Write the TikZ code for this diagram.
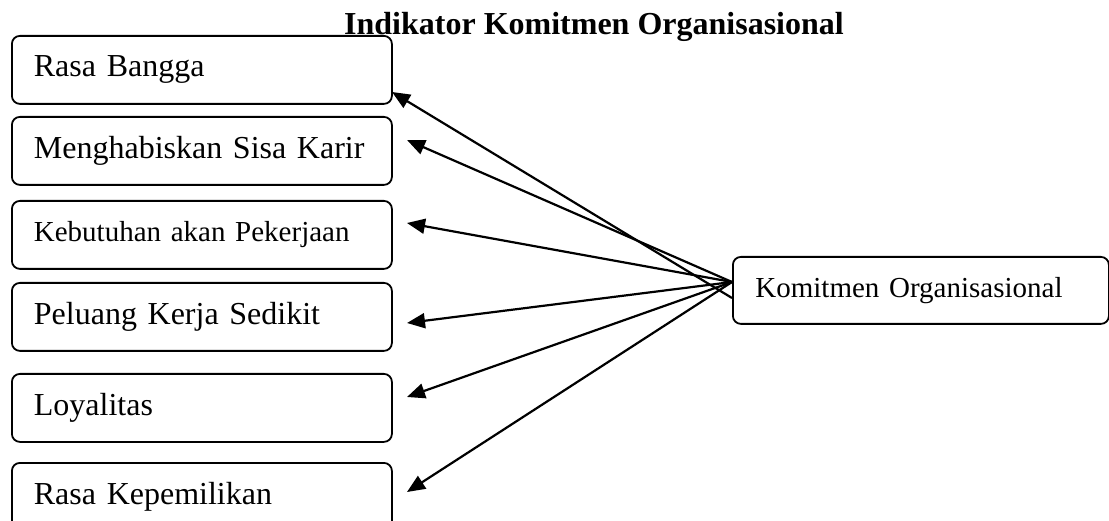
\documentclass[tikz,border=0pt]{standalone}
\usepackage{fontspec}
\setmainfont{Liberation Serif}
\usetikzlibrary{arrows.meta}
\begin{document}
\begin{tikzpicture}[x=1pt,y=-1pt,
  item/.style={draw, line width=1.8pt, rounded corners=8pt, anchor=north west,
    minimum height=68pt, inner xsep=22pt, text width=336pt, align=left,
    font=\fontsize{32}{36}\selectfont},
  smallitem/.style={item, font=\fontsize{29}{33}\selectfont},
  link/.style={line width=2.2pt, -{Triangle[length=18pt,width=15pt]}}]
\useasboundingbox (0,0) rectangle (1109,521);

% indicator boxes
\node[item]      (b1) at (11,35)  {Rasa Bangga};
\node[item]      (b2) at (11,116) {Menghabiskan Sisa Karir};
\node[smallitem] (b3) at (11,200) {Kebutuhan akan Pekerjaan};
\node[item]      (b4) at (11,282) {Peluang Kerja Sedikit};
\node[item]      (b5) at (11,373) {Loyalitas};
\node[item]      (b6) at (11,462) {Rasa Kepemilikan};

% construct box
\node[item, font=\fontsize{29}{33}\selectfont, text width=331pt, minimum height=67pt, inner xsep=22.5pt]
  (k) at (732,256) {Komitmen Organisasional};

% heading
\node[font=\bfseries\fontsize{32}{36}\selectfont, anchor=base, inner sep=0pt]
  (title) at (594,35) {Indikator Komitmen Organisasional};

% arrow origins and tips
\coordinate (s)  at (732,282);
\coordinate (s1) at (732,298);
\coordinate (t1) at (392,92);
\coordinate (t2) at (407,140);
\coordinate (t3) at (407,223);
\coordinate (t4) at (407,323);
\coordinate (t5) at (407,397);
\coordinate (t6) at (407,492);

\draw[link] (s1) -- (t1);
\draw[link] (s) -- (t2);
\draw[link] (s) -- (t3);
\draw[link] (s) -- (t4);
\draw[link] (s) -- (t5);
\draw[link] (s) -- (t6);
\end{tikzpicture}
\end{document}
